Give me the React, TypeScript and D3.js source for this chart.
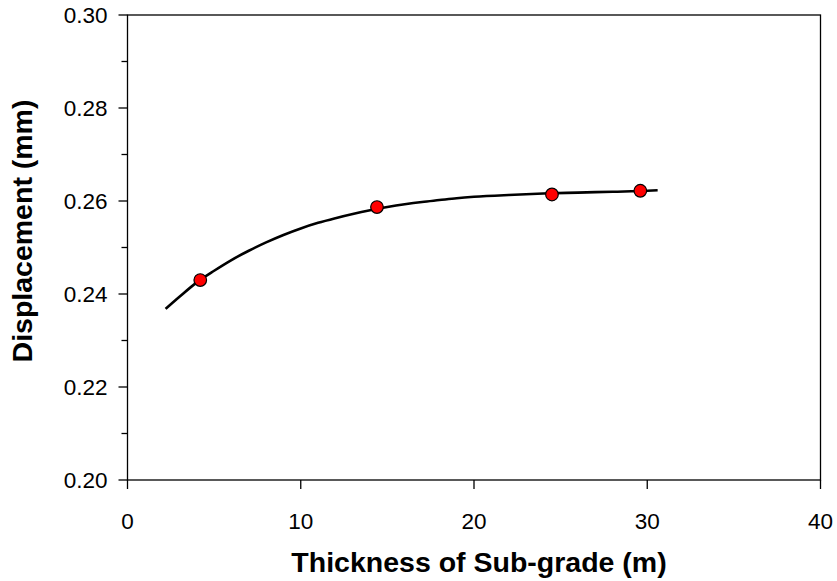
import { useEffect, useRef } from "react";
import * as d3 from "d3";

// measured points (thickness m, displacement mm)
const pointX = [4.2, 14.4, 24.5, 29.6];
const pointY = [0.243, 0.2587, 0.2614, 0.2622];

// fitted trend line
const curveX = [2.2, 3, 4, 5, 6, 7, 8, 9, 10, 11, 12, 13, 14, 15, 16, 17, 18, 19, 20, 22, 24, 26, 28, 30, 30.6];
const curveY = [
  0.2368, 0.2394, 0.2425, 0.245, 0.2473, 0.2493, 0.2511, 0.2527, 0.2541, 0.2553, 0.2563, 0.2572, 0.258,
  0.2587, 0.2593, 0.2598, 0.2602, 0.2606, 0.2609, 0.2613, 0.2616, 0.2618, 0.262, 0.2622, 0.2623,
];

const xTicks = [0, 10, 20, 30, 40];
const yTicks = [0.2, 0.22, 0.24, 0.26, 0.28, 0.3];
const yMinor = [0.21, 0.23, 0.25, 0.27, 0.29];

export default function App() {
  const ref = useRef<SVGSVGElement>(null);

  useEffect(() => {
    const width = 837;
    const height = 581;
    const left = 127.5;
    const right = 820.5;
    const top = 15;
    const bottom = 480;
    const font = "'Liberation Sans', Arial, sans-serif";

    const svg = d3.select(ref.current).attr("width", width).attr("height", height);
    svg.selectAll("*").remove();

    const x = d3.scaleLinear().domain([0, 40]).range([left, right]);
    const y = d3.scaleLinear().domain([0.2, 0.3]).range([bottom, top]);

    // frame
    svg
      .append("rect")
      .attr("x", left)
      .attr("y", top)
      .attr("width", right - left)
      .attr("height", bottom - top)
      .attr("fill", "none")
      .attr("stroke", "#000")
      .attr("stroke-width", 1.3);

    // y ticks
    yTicks.forEach((v) => {
      svg
        .append("line")
        .attr("x1", left - 9)
        .attr("x2", left)
        .attr("y1", y(v))
        .attr("y2", y(v))
        .attr("stroke", "#000")
        .attr("stroke-width", 1.3);
      svg
        .append("text")
        .attr("x", left - 20)
        .attr("y", y(v))
        .attr("dy", "0.36em")
        .attr("text-anchor", "end")
        .attr("font-family", font)
        .attr("font-size", 22.5)
        .text(d3.format(".2f")(v));
    });
    yMinor.forEach((v) => {
      svg
        .append("line")
        .attr("x1", left - 6)
        .attr("x2", left)
        .attr("y1", y(v))
        .attr("y2", y(v))
        .attr("stroke", "#000")
        .attr("stroke-width", 1.3);
    });

    // x ticks
    xTicks.forEach((v) => {
      svg
        .append("line")
        .attr("x1", x(v))
        .attr("x2", x(v))
        .attr("y1", bottom)
        .attr("y2", bottom + 9)
        .attr("stroke", "#000")
        .attr("stroke-width", 1.3);
      svg
        .append("text")
        .attr("x", x(v))
        .attr("y", bottom + 49)
        .attr("text-anchor", "middle")
        .attr("font-family", font)
        .attr("font-size", 22.5)
        .text(String(v));
    });

    // axis titles
    svg
      .append("text")
      .attr("x", 479)
      .attr("y", 572)
      .attr("text-anchor", "middle")
      .attr("font-family", font)
      .attr("font-size", 28.5)
      .attr("font-weight", "bold")
      .text("Thickness of Sub-grade (m)");
    svg
      .append("text")
      .attr("transform", `translate(32,231) rotate(-90)`)
      .attr("text-anchor", "middle")
      .attr("font-family", font)
      .attr("font-size", 28.5)
      .attr("font-weight", "bold")
      .text("Displacement (mm)");

    // trend line
    const line = d3
      .line<number>()
      .x((_, i) => x(curveX[i]))
      .y((d) => y(d))
      .curve(d3.curveMonotoneX);
    svg
      .append("path")
      .datum(curveY)
      .attr("d", line)
      .attr("fill", "none")
      .attr("stroke", "#000")
      .attr("stroke-width", 2.6);

    // points
    svg
      .selectAll("circle.pt")
      .data(pointY)
      .join("circle")
      .attr("class", "pt")
      .attr("cx", (_, i) => x(pointX[i]))
      .attr("cy", (d) => y(d))
      .attr("r", 6.3)
      .attr("fill", "#ff0000")
      .attr("stroke", "#000")
      .attr("stroke-width", 1.2);
  }, []);

  return <svg ref={ref} style={{ position: "absolute", left: 0, top: 0 }}></svg>;
}
